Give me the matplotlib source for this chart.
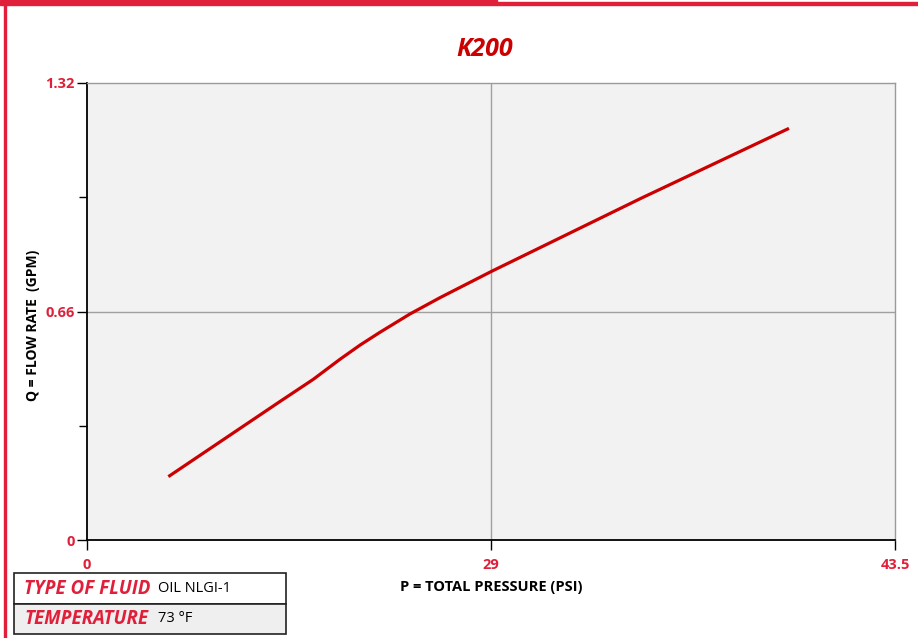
import numpy as np
import matplotlib.pyplot as plt
from matplotlib.patches import Rectangle

plt.rcParams['font.family'] = ['Open Sans', 'DejaVu Sans']

red = '#e0203a'
curve_red = '#cc0000'

# data
pressure = [5.84, 13.85, 16.24, 18.16, 19.6, 21.03, 23.19, 25.34, 29.09, 39.77, 50.39]
flow = [0.183, 0.400, 0.464, 0.522, 0.563, 0.600, 0.653, 0.700, 0.777, 0.987, 1.189]
x_ticks = [0, 29, 58]
x_tick_labels = ['0', '29', '43.5']
y_ticks = [0, 0.66, 1.32]
y_tick_labels = ['0', '0.66', '1.32']
y_minor = [0.33, 0.99]
fluid = 'OIL NLGI-1'
temperature = '73 °F'

fig = plt.figure(figsize=(9.18, 6.38), dpi=100)
W, H = 918, 638

# page decorations
fig.patches.append(Rectangle((0, 1 - 4.5 / H), 497 / W, 4.5 / H, transform=fig.transFigure,
                             color=red, zorder=0))
fig.patches.append(Rectangle((497 / W, 1 - 4.5 / H), 1 - 497 / W, 2.2 / H, transform=fig.transFigure,
                             color=red, zorder=0))
fig.patches.append(Rectangle((3.5 / W, 0), 2.5 / W, 1, transform=fig.transFigure,
                             color=red, zorder=0))

ax = fig.add_axes([87 / W, 1 - 540 / H, 808 / W, 457 / H])
ax.set_facecolor('#f2f2f2')
ax.plot(pressure, flow, color=curve_red, lw=2.3, solid_capstyle='butt',
        solid_joinstyle='round', zorder=3)

ax.set_xlim(0, 58)
ax.set_ylim(0, 1.32)
ax.set_xticks(x_ticks)
ax.set_xticklabels(x_tick_labels)
ax.set_yticks(y_ticks)
ax.set_yticklabels(y_tick_labels)
ax.set_yticks(y_minor, minor=True)
ax.tick_params(axis='both', which='major', direction='out', length=7, width=1,
               colors='black', labelcolor=red, labelsize=10.5)
ax.tick_params(axis='y', which='minor', direction='out', length=6, width=1)
for lab in ax.get_xticklabels() + ax.get_yticklabels():
    lab.set_fontweight('bold')
ax.tick_params(axis='x', pad=6)
ax.tick_params(axis='y', pad=2)
ax.axvline(29, color='#a0a0a0', lw=1, zorder=1)
ax.axhline(0.66, color='#a0a0a0', lw=1, zorder=1)

for s in ['top', 'right']:
    ax.spines[s].set_color('#9a9a9a')
    ax.spines[s].set_linewidth(1)
for s in ['left', 'bottom']:
    ax.spines[s].set_color('black')
    ax.spines[s].set_linewidth(1.3)

ax.set_xlabel('P = TOTAL PRESSURE (PSI)', fontsize=10.5, fontweight='bold', labelpad=6)
ax.set_ylabel('Q = FLOW RATE  (GPM)', fontsize=10, fontweight='bold')
ax.yaxis.set_label_coords((40 - 87) / 808, 0.47)

fig.text(485 / W, 1 - 50 / H, 'K200', color=curve_red, fontsize=18, fontweight='bold',
         fontstyle='italic', ha='center', va='center')

# info box
x0, x1 = 14 / W, 286 / W
rows = [(573, 604, '#ffffff', 'TYPE OF FLUID', fluid),
        (604, 634, '#efefef', 'TEMPERATURE', temperature)]
for top, bot, fc, key, val in rows:
    fig.patches.append(Rectangle((x0, 1 - bot / H), x1 - x0, (bot - top) / H,
                                 transform=fig.transFigure, facecolor=fc,
                                 edgecolor='#222222', lw=1.2))
    yc = 1 - (top + bot) / 2 / H
    fig.text(24 / W, yc, key, color=red, fontsize=13.5, fontweight='bold',
             fontstyle='italic', ha='left', va='center')
    fig.text(158 / W, yc, val, color='black', fontsize=10.5, ha='left', va='center')

fig.savefig('out.png', dpi=100)
